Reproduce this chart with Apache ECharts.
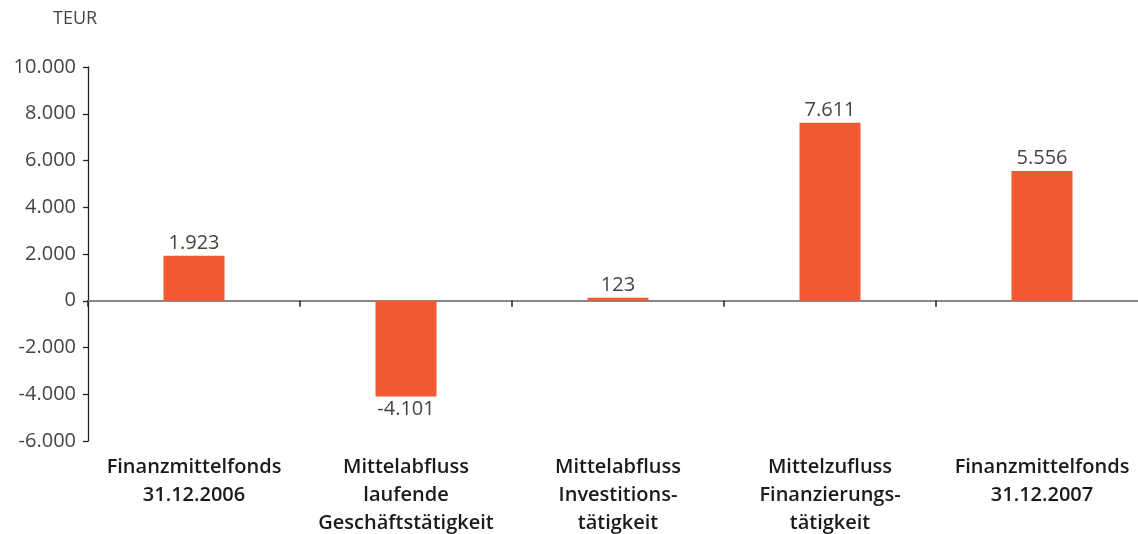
<!DOCTYPE html>
<html>
<head>
<meta charset="utf-8">
<script src="https://cdn.jsdelivr.net/npm/echarts@6/dist/echarts.min.js"></script>
<style>html,body{margin:0;padding:0;background:#fff}#c{width:1138px;height:534px}</style>
</head>
<body>
<div id="c"></div>
<script>
const categories = [
  "Finanzmittelfonds\n31.12.2006",
  "Mittelabfluss\nlaufende\nGeschäftstätigkeit",
  "Mittelabfluss\nInvestitions-\ntätigkeit",
  "Mittelzufluss\nFinanzierungs-\ntätigkeit",
  "Finanzmittelfonds\n31.12.2007"
];
const values = [1923, -4101, 123, 7611, 5556];
const unitLabel = "TEUR";
const yMin = -6000, yMax = 10000, yStep = 2000;

function de(v) {
  const s = Math.abs(v).toString().replace(/\B(?=(\d{3})+(?!\d))/g, ".");
  return (v < 0 ? "-" : "") + s;
}

const chart = echarts.init(document.getElementById('c'), null, {renderer: 'canvas'});
const font = "'Open Sans', sans-serif";
chart.setOption({
  animation: false,
  grid: {left: 88, top: 67, width: 1060, height: 374, containLabel: false, outerBoundsMode: 'none'},
  graphic: [{
    type: 'text', left: 53, top: 10,
    style: {text: unitLabel, font: "18px " + font, fill: '#444'}
  }],
  xAxis: [{
    type: 'category', data: categories, position: 'bottom',
    axisLine: {onZero: true, lineStyle: {color: '#888', width: 2}},
    axisTick: {show: true, length: 6, lineStyle: {color: '#222', width: 1.5}},
    axisLabel: {show: false},
    splitLine: {show: false}
  }, {
    type: 'category', data: categories, position: 'bottom', gridIndex: 0,
    axisLine: {show: false, onZero: false},
    axisTick: {show: false},
    axisLabel: {
      show: true, margin: 12, interval: 0,
      fontFamily: font, fontSize: 20, fontWeight: 600, color: '#1a1a1a', lineHeight: 28
    }
  }],
  yAxis: {
    type: 'value', min: yMin, max: yMax, interval: yStep,
    axisLine: {show: true, onZero: false, lineStyle: {color: '#222', width: 1.3}},
    axisTick: {show: true, length: 5, lineStyle: {color: '#222', width: 1.3}},
    splitLine: {show: false},
    axisLabel: {
      margin: 12, fontFamily: font, fontSize: 20, color: '#444',
      formatter: v => de(v)
    }
  },
  series: [{
    type: 'bar', xAxisIndex: 0, barWidth: 61,
    data: values.map(v => ({
      value: v,
      label: {position: v < 0 ? 'bottom' : 'top'}
    })),
    itemStyle: {color: '#F15A31'},
    label: {
      show: true, distance: 3, fontFamily: font, fontSize: 20, color: '#444',
      formatter: p => de(p.value)
    }
  }]
});
</script>
</body>
</html>
